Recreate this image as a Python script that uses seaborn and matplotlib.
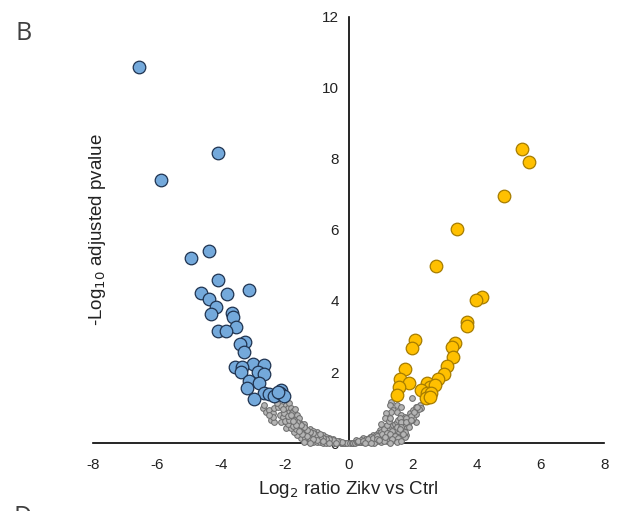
import matplotlib
matplotlib.use("Agg")
import matplotlib.pyplot as plt
import seaborn as sns
import pandas as pd

# ---------------- data ----------------
down_x = [-6.55, -4.08, -5.86, -4.93, -4.36, -4.07, -4.62, -3.81, -3.13, -4.38,
          -4.15, -4.31, -3.65, -3.63, -3.52, -4.10, -3.83, -3.24, -3.39, -3.26,
          -3.54, -2.98, -2.66, -3.32, -3.36, -2.84, -2.66, -3.13, -2.81, -3.19,
          -2.66, -2.48, -2.34, -2.11, -2.16, -2.03, -2.95, -2.21]
down_y = [10.59, 8.17, 7.41, 5.20, 5.42, 4.60, 4.22, 4.20, 4.32, 4.06,
          3.84, 3.63, 3.67, 3.56, 3.28, 3.16, 3.16, 2.85, 2.79, 2.57,
          2.15, 2.23, 2.20, 2.15, 2.01, 2.01, 1.94, 1.75, 1.68, 1.55,
          1.40, 1.37, 1.33, 1.49, 1.40, 1.33, 1.24, 1.44]

up_x = [5.41, 5.64, 4.86, 3.38, 2.72, 4.16, 4.00, 3.71, 3.71, 2.08,
        1.97, 3.32, 3.25, 3.27, 3.08, 1.76, 2.99, 1.62, 1.89, 2.80,
        1.58, 2.45, 2.56, 2.70, 2.28, 1.50, 2.44, 2.59, 2.41, 2.54]
up_y = [8.28, 7.92, 6.96, 6.03, 4.99, 4.10, 4.03, 3.42, 3.30, 2.90,
        2.67, 2.81, 2.70, 2.43, 2.17, 2.08, 1.94, 1.79, 1.68, 1.79,
        1.59, 1.70, 1.59, 1.63, 1.49, 1.35, 1.40, 1.40, 1.26, 1.30]

ns_x = [-2.69, -2.58, -2.63, -2.48, -2.37, -2.32, -2.22, -2.11, -1.95, -1.90,
        -1.85, -2.42, -2.32, -2.37, -2.16, -2.06, -2.01, -2.11, -1.95, -1.80,
        -1.74, -1.85, -1.69, -1.95, -1.59, -1.54, -1.38, -1.22, -1.01, -0.81,
        -0.60, -1.48, -1.64,
        -1.85, -1.80, -1.75, -1.70, -1.78, -1.65, -1.60, -1.72, -1.62, -1.55,
        -1.50, -1.45, -1.55, -1.45, -1.40, -1.35, -1.30, -1.40, -1.30, -1.25,
        -1.20, -1.15, -1.25, -1.10, -1.05, -1.15, -1.00, -0.95, -1.05, -0.90,
        -0.85, -0.95, -0.80, -0.75, -0.85, -0.70, -0.65, -0.75, -0.60, -0.55,
        -0.65, -0.50, -0.45, -0.55, -0.40, -0.35, -0.45, -0.30, -0.25, -0.20,
        -0.15, -0.10, -0.05, -1.30, -1.20, -1.10, -1.00, -0.90, -0.80, -0.70,
        -1.40, -1.50, -1.60, -1.70, -1.80, -1.90, -2.00, -1.65, -1.75, -1.85,
        -1.90, -1.70, -1.60, -1.68, -1.55, -1.00, -0.80, -0.60, -1.20, -1.40,
        -1.10, -0.70, -0.50, -0.30,
        -0.20, -0.35, -0.50, -0.60, -0.70, -0.80, -0.90, -1.00, -1.10, -1.20,
        -1.30, -1.40, -1.50, -1.60, -1.70, -1.80, -0.40, -0.60, -0.80, -1.00,
        -1.20, -1.35, -1.50, -1.65, -1.75, -0.90, -1.10, -1.30, -1.45, -1.55,
        -1.40, -1.20, -2.25, -2.50, -2.05,
        1.34, 1.29, 1.50, 1.39, 1.34, 1.50, 1.65, 1.97, 1.65, 1.76,
        1.91, 2.02, 2.12, 2.23, 2.28, 2.10, 1.97, 1.81, 1.55, 1.18,
        1.13, 1.03, 1.23, 1.39, 1.65, 1.81, 1.44, 0.97, 0.92, 0.76,
        0.66, 0.45, 0.24,
        0.05, 0.10, 0.15, 0.20, 0.25, 0.30, 0.35, 0.40, 0.45, 0.50,
        0.55, 0.60, 0.65, 0.70, 0.75, 0.80, 0.85, 0.90, 0.95, 1.00,
        1.05, 1.10, 1.15, 1.20, 1.25, 1.30, 1.35, 1.40, 1.45, 1.50,
        1.55, 1.60, 0.40, 0.55, 0.70, 0.85, 1.00, 1.10, 1.20, 1.25,
        1.30, 0.60, 0.75, 0.90, 1.05, 1.20, 1.35, 1.50, 1.60, 1.70,
        1.80, 1.90, 2.00, 2.10, 2.20, 1.10, 1.25, 1.40, 1.55, 1.70,
        1.85, 1.95, 2.05, 1.45, 1.60, 1.75, 1.65, 1.80, 0.80, 1.00,
        1.20, 1.40, 1.60, 1.75,
        0.30, 0.45, 0.60, 0.75, 0.90, 1.05, 1.20, 1.35, 1.50, 1.65,
        1.80, 1.95, 0.50, 0.70, 0.90, 1.10, 1.30, 1.45, 1.60, 1.75,
        1.90, 0.95, 1.15, 1.35, 1.55, 1.70, 2.15, 1.30, 1.50, 1.65]
ns_y = [0.98, 0.88, 1.07, 0.93, 0.84, 0.98, 1.02, 1.04, 1.07, 0.98,
        0.88, 0.65, 0.60, 0.74, 0.79, 0.74, 0.84, 0.60, 0.60, 0.74,
        0.65, 0.51, 0.46, 0.41, 0.37, 0.27, 0.23, 0.18, 0.13, 0.08,
        0.06, 0.46, 0.60,
        1.13, 1.00, 0.90, 0.82, 0.85, 0.75, 0.68, 0.55, 0.52, 0.60,
        0.55, 0.50, 0.42, 0.38, 0.45, 0.40, 0.35, 0.30, 0.28, 0.30,
        0.27, 0.25, 0.22, 0.22, 0.20, 0.16, 0.18, 0.16, 0.12, 0.14,
        0.12, 0.09, 0.10, 0.09, 0.06, 0.08, 0.07, 0.05, 0.05, 0.05,
        0.03, 0.04, 0.03, 0.02, 0.03, 0.02, 0.01, 0.02, 0.01, 0.01,
        0.01, 0.00, 0.00, 0.05, 0.04, 0.03, 0.02, 0.02, 0.01, 0.01,
        0.08, 0.15, 0.22, 0.32, 0.42, 0.55, 0.62, 0.40, 0.48, 0.65,
        0.75, 0.70, 0.80, 0.95, 0.70, 0.30, 0.22, 0.15, 0.40, 0.55,
        0.35, 0.18, 0.10, 0.06,
        0.04, 0.06, 0.08, 0.10, 0.12, 0.15, 0.18, 0.22, 0.27, 0.32,
        0.38, 0.46, 0.50, 0.58, 0.65, 0.80, 0.00, 0.00, 0.05, 0.08,
        0.10, 0.15, 0.30, 0.50, 0.62, 0.25, 0.12, 0.20, 0.25, 0.35,
        0.02, 0.01, 1.12, 0.78, 0.95,
        1.16, 1.07, 1.07, 0.93, 0.88, 0.88, 1.02, 1.26, 0.79, 0.74,
        0.84, 0.93, 1.02, 1.07, 0.98, 0.60, 0.65, 0.55, 0.60, 0.84,
        0.70, 0.55, 0.51, 0.41, 0.37, 0.23, 0.13, 0.37, 0.27, 0.23,
        0.18, 0.13, 0.08,
        0.00, 0.00, 0.01, 0.01, 0.02, 0.02, 0.03, 0.03, 0.04, 0.05,
        0.06, 0.07, 0.08, 0.09, 0.11, 0.12, 0.14, 0.16, 0.18, 0.20,
        0.23, 0.26, 0.30, 0.33, 0.37, 0.40, 0.45, 0.50, 0.55, 0.60,
        0.66, 0.70, 0.08, 0.12, 0.17, 0.24, 0.30, 0.40, 0.50, 0.62,
        0.70, 0.02, 0.04, 0.06, 0.09, 0.12, 0.16, 0.22, 0.30, 0.40,
        0.48, 0.58, 0.70, 0.82, 0.95, 0.15, 0.22, 0.28, 0.35, 0.55,
        0.66, 0.76, 0.88, 0.40, 0.48, 0.62, 0.58, 0.70, 0.01, 0.03,
        0.05, 0.08, 0.12, 0.18,
        0.05, 0.07, 0.10, 0.14, 0.20, 0.26, 0.28, 0.33, 0.45, 0.44,
        0.58, 0.65, 0.00, 0.01, 0.10, 0.05, 0.25, 0.20, 0.40, 0.30,
        0.45, 0.08, 0.18, 0.10, 0.15, 0.25, 1.02, 0.01, 0.03, 0.06]

x_ticks = [-8, -6, -4, -2, 0, 2, 4, 6, 8]
y_ticks = [0, 2, 4, 6, 8, 10, 12]

# ---------------- figure ----------------
sns.set_theme(style="white")
plt.rcParams["font.family"] = ["Liberation Sans", "DejaVu Sans"]

fig = plt.figure(figsize=(6.23, 5.11), dpi=100)
ax = fig.add_axes([0.149, 0.133, 0.821, 0.834])

ns = pd.DataFrame({"x": ns_x, "y": ns_y})
dn = pd.DataFrame({"x": down_x, "y": down_y})
upd = pd.DataFrame({"x": up_x, "y": up_y})

sns.scatterplot(data=ns, x="x", y="y", ax=ax, s=17, color="#b5b5b5",
                edgecolor="#6e6e6e", linewidth=0.75, clip_on=False, zorder=2)
sns.scatterplot(data=dn, x="x", y="y", ax=ax, s=82, color="#74a9db",
                edgecolor="#1f3350", linewidth=0.9, clip_on=False, zorder=3)
sns.scatterplot(data=upd, x="x", y="y", ax=ax, s=82, color="#ffc000",
                edgecolor="#a67c00", linewidth=0.9, clip_on=False, zorder=3)

ax.set_xlim(-8, 8)
ax.set_ylim(0, 12)
ax.set_xticks(x_ticks)
ax.set_yticks(y_ticks)
ax.set_xticklabels([str(v) for v in x_ticks])
ax.set_yticklabels([str(v) for v in y_ticks])

for side in ["top", "right"]:
    ax.spines[side].set_visible(False)
ax.spines["left"].set_position(("data", 0))
ax.spines["bottom"].set_position(("data", 0))
for side in ["left", "bottom"]:
    ax.spines[side].set_color("black")
    ax.spines[side].set_linewidth(1.2)
    ax.spines[side].set_zorder(1)

ax.tick_params(axis="x", length=0, pad=11, labelsize=11, labelcolor="#222222")
ax.tick_params(axis="y", length=0, pad=7, labelsize=11, labelcolor="#222222")
ax.grid(False)

ax.set_xlabel(r"Log$_2$ ratio Zikv vs Ctrl", fontsize=13.5, color="#222222")
ax.set_ylabel(r"-Log$_{10}$ adjusted pvalue", fontsize=13.5, color="#222222")
ax.xaxis.set_label_coords(0.5, -0.085)
ax.yaxis.set_label_coords(0.03, 0.5)

fig.text(15 / 623, 1 - 21 / 511, "B", fontsize=18, color="#404040",
         ha="left", va="top", family=["Open Sans", "DejaVu Sans"])
fig.text(13 / 623, 1 - 505 / 511, "D", fontsize=18, color="#404040",
         ha="left", va="top", family=["Open Sans", "DejaVu Sans"])

fig.savefig("out.png", dpi=100)
